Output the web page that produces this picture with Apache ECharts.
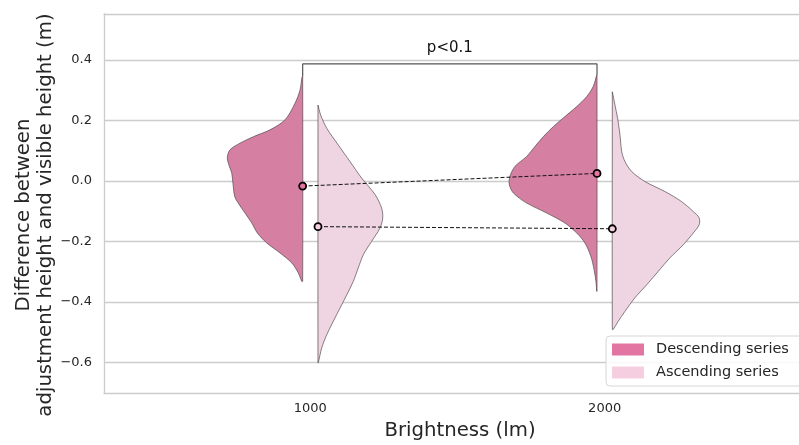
<!DOCTYPE html>
<html><head><meta charset="utf-8">
<script src="https://cdn.jsdelivr.net/npm/echarts@6/dist/echarts.min.js"></script>
<style>html,body{margin:0;padding:0;background:#fff}#c{width:799px;height:445px}</style>
</head><body><div id="c"></div><script>
// ---- data ----
const categories = ['1000', '2000'];
const categoryPos = [0, 1];
const yTicks = [-0.6, -0.4, -0.2, 0.0, 0.2, 0.4];
const seriesNames = ['Descending series', 'Ascending series'];

// kernel density outlines (level, half-width in category units)
const descLevels1000 = [0.345, 0.301, 0.257, 0.202, 0.169, 0.147, 0.125, 0.103, 0.076, 0.048, 0.026, -0.007, -0.051, -0.073, -0.106, -0.139, -0.172, -0.205, -0.238, -0.271, -0.304, -0.332];
const descDensity1000 = [0.002, 0.009, 0.026, 0.060, 0.111, 0.166, 0.213, 0.247, 0.256, 0.249, 0.241, 0.237, 0.231, 0.219, 0.196, 0.173, 0.154, 0.122, 0.077, 0.037, 0.015, 0.003];
const descLevels2000 = [0.350, 0.312, 0.279, 0.246, 0.213, 0.180, 0.147, 0.114, 0.081, 0.048, 0.015, -0.012, -0.040, -0.073, -0.106, -0.139, -0.172, -0.205, -0.249, -0.293, -0.337, -0.365];
const descDensity2000 = [0.001, 0.013, 0.035, 0.069, 0.109, 0.148, 0.182, 0.211, 0.239, 0.279, 0.296, 0.298, 0.284, 0.239, 0.171, 0.109, 0.069, 0.041, 0.021, 0.010, 0.003, 0.001];
const ascLevels1000 = [0.251, 0.218, 0.174, 0.119, 0.064, 0.010, -0.045, -0.089, -0.122, -0.155, -0.200, -0.244, -0.287, -0.332, -0.376, -0.420, -0.464, -0.508, -0.551, -0.601];
const ascDensity1000 = [0.000, 0.009, 0.030, 0.069, 0.109, 0.148, 0.194, 0.216, 0.220, 0.211, 0.182, 0.154, 0.137, 0.120, 0.098, 0.075, 0.052, 0.030, 0.013, 0.001];
const ascLevels2000 = [0.295, 0.251, 0.207, 0.152, 0.097, 0.064, 0.031, -0.002, -0.035, -0.068, -0.101, -0.122, -0.145, -0.172, -0.211, -0.254, -0.299, -0.343, -0.386, -0.431, -0.464, -0.491];
const ascDensity2000 = [0.000, 0.009, 0.018, 0.026, 0.032, 0.043, 0.066, 0.111, 0.179, 0.235, 0.275, 0.295, 0.295, 0.275, 0.241, 0.196, 0.156, 0.117, 0.077, 0.043, 0.020, 0.003];

const descMeans = [-0.017, 0.025];
const ascMeans = [-0.151, -0.158];

const bracketTop = 0.387;
const bracketEnds = [0.345, 0.350];
const pLabel = 'p<0.1';
const pLabelY = 0.44;

// ---- styling / layout ----
const GAP = 0.026;
const FONT = '"DejaVu Sans", "Liberation Sans", sans-serif';
const TXT = '#262626';
const SPINE = { show: true, onZero: false, lineStyle: { color: '#cccccc', width: 1.3 } };
const descFill = 'rgb(213,127,162)';
const ascFill = 'rgb(238,213,225)';
const descLegend = 'rgb(226,117,162)';
const ascLegend = 'rgb(245,207,224)';

function violin(name, levels, dens, side, fill, legendColor) {
  return {
    type: 'custom', name: name, z: 2,
    itemStyle: { color: legendColor },
    data: categoryPos.map((c, i) => [c, i]),
    encode: { x: 0 },
    silent: true,
    renderItem: function (params, api) {
      const i = params.dataIndex;
      const base = categoryPos[i] + side * GAP;
      const lv = levels[i], dn = dens[i];
      const pts = [api.coord([base, lv[0]])];
      for (let k = 0; k < lv.length; k++) pts.push(api.coord([base + side * dn[k], lv[k]]));
      pts.push(api.coord([base, lv[lv.length - 1]]));
      return { type: 'polygon', shape: { points: pts, smooth: 0.3 },
        style: { fill: fill, stroke: 'rgba(70,60,65,0.8)', lineWidth: 0.8 } };
    }
  };
}

const descPts = categoryPos.map((c, i) => [c - GAP, descMeans[i]]);
const ascPts = categoryPos.map((c, i) => [c + GAP, ascMeans[i]]);
const fmt = v => (v < -1e-9 ? '\u2212' + Math.abs(v).toFixed(1) : Math.abs(v).toFixed(1));

const chart = echarts.init(document.getElementById('c'), null, { renderer: 'canvas' });
chart.setOption({
  animation: false,
  backgroundColor: '#fff',
  grid: { left: 104, top: 14, width: 712, height: 379, outerBoundsMode: 'none', containLabel: false, show: false },
  xAxis: [{
    type: 'value', min: -0.701, max: 1.718, position: 'bottom',
    axisLine: SPINE, axisTick: { show: false, customValues: categoryPos },
    splitLine: { show: false },
    axisLabel: { customValues: categoryPos, formatter: v => categories[categoryPos.indexOf(v)], color: TXT, fontSize: 13, fontFamily: FONT, margin: 9 },
    name: 'Brightness (lm)', nameLocation: 'middle', nameGap: 28,
    nameTextStyle: { color: TXT, fontSize: 19.7, fontFamily: FONT }
  }, {
    type: 'value', min: -0.701, max: 1.718, position: 'top',
    axisLine: SPINE, axisTick: { show: false }, axisLabel: { show: false }, splitLine: { show: false }
  }],
  yAxis: {
    type: 'value', min: -0.701, max: 0.552, position: 'left',
    axisLine: SPINE, axisTick: { show: false, customValues: yTicks },
    axisLabel: { customValues: yTicks, formatter: fmt, color: TXT, fontSize: 13, fontFamily: FONT, margin: 12 },
    splitLine: { show: true, lineStyle: { color: '#cccccc', width: 1.3 } }
  },
  legend: {
    data: seriesNames, orient: 'vertical', left: 606, top: 336,
    icon: 'rect', itemWidth: 32, itemHeight: 12, itemGap: 6,
    padding: [5, 14, 5, 6],
    borderColor: '#d6d6d6', borderWidth: 1, borderRadius: 4, backgroundColor: 'rgba(255,255,255,0.85)',
    textStyle: { color: TXT, fontSize: 14.5, fontFamily: FONT, padding: [0, 0, 0, 7], lineHeight: 17 }
  },
  graphic: [{
    type: 'text', x: 35, y: 215, rotation: Math.PI / 2,
    style: { text: 'Difference between\nadjustment height and visible height (m)', font: '19.7px ' + FONT, fill: TXT, align: 'center', verticalAlign: 'middle', lineHeight: 22 }
  }],
  series: [
    violin(seriesNames[0], [descLevels1000, descLevels2000], [descDensity1000, descDensity2000], -1, descFill, descLegend),
    violin(seriesNames[1], [ascLevels1000, ascLevels2000], [ascDensity1000, ascDensity2000], 1, ascFill, ascLegend),
    { type: 'line', name: 'descLine', data: descPts, symbol: 'none', z: 3, silent: true,
      lineStyle: { color: '#111', width: 1, type: [4, 2] } },
    { type: 'line', name: 'ascLine', data: ascPts, symbol: 'none', z: 3, silent: true,
      lineStyle: { color: '#111', width: 1, type: [4, 2] } },
    { type: 'scatter', name: 'descMean', data: descPts, symbol: 'circle', symbolSize: 7, z: 4, silent: true,
      itemStyle: { color: descLegend, borderColor: '#000', borderWidth: 1.8, opacity: 1 } },
    { type: 'scatter', name: 'ascMean', data: ascPts, symbol: 'circle', symbolSize: 7, z: 4, silent: true,
      itemStyle: { color: ascLegend, borderColor: '#000', borderWidth: 1.8, opacity: 1 } },
    { type: 'line', name: 'bracket', symbol: 'none', z: 3, silent: true,
      data: [[categoryPos[0] - GAP, bracketEnds[0]], [categoryPos[0] - GAP, bracketTop], [categoryPos[1] - GAP, bracketTop], [categoryPos[1] - GAP, bracketEnds[1]]],
      lineStyle: { color: '#555', width: 1.2 } },
    { type: 'custom', name: 'pText', z: 5, silent: true,
      data: [[(categoryPos[0] + categoryPos[1]) / 2 - GAP, pLabelY]],
      renderItem: function (params, api) {
        const p = api.coord([api.value(0), api.value(1)]);
        return { type: 'text', x: p[0], y: p[1], style: { text: pLabel, font: '15px ' + FONT, fill: '#111', align: 'center', verticalAlign: 'middle' } };
      } }
  ]
});
</script></body></html>
